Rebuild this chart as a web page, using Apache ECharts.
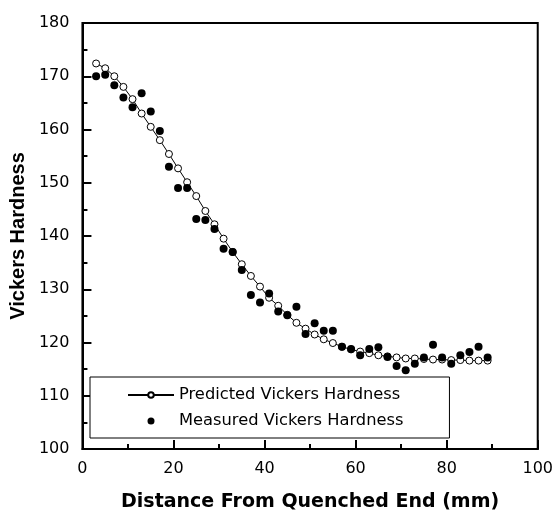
<!DOCTYPE html>
<html>
<head>
<meta charset="utf-8">
<script src="https://cdn.jsdelivr.net/npm/echarts@6/dist/echarts.min.js"></script>
<style>
  html, body { margin: 0; padding: 0; background: #fff; }
  #chart { width: 556px; height: 518px; }
</style>
</head>
<body>
<div id="chart"></div>
<script>
// Sample positions along the Jominy bar (mm from the quenched end)
const distance = [3, 5, 7, 9, 11, 13, 15, 17, 19, 21, 23, 25, 27, 29, 31, 33, 35, 37, 39, 41, 43, 45,
                  47, 49, 51, 53, 55, 57, 59, 61, 63, 65, 67, 69, 71, 73, 75, 77, 79, 81, 83, 85, 87, 89];

// Model output
const predicted = [172.4, 171.5, 170.0, 168.0, 165.7, 163.0, 160.5, 158.0, 155.4, 152.7, 150.1,
                   147.5, 144.7, 142.2, 139.5, 137.0, 134.7, 132.5, 130.5, 128.4, 126.9, 125.2,
                   123.7, 122.6, 121.5, 120.6, 119.9, 119.2, 118.7, 118.3, 118.0, 117.6, 117.4,
                   117.2, 117.0, 117.0, 116.9, 116.8, 116.8, 116.7, 116.7, 116.6, 116.6, 116.6];

// Hardness readings
const measured = [170.0, 170.3, 168.3, 166.0, 164.2, 166.8, 163.4, 159.7, 153.0, 149.0, 149.0,
                  143.2, 143.0, 141.3, 137.6, 137.0, 133.6, 128.9, 127.5, 129.2, 125.8, 125.1,
                  126.7, 121.6, 123.6, 122.2, 122.2, 119.2, 118.8, 117.6, 118.8, 119.1, 117.3,
                  115.6, 114.8, 116.0, 117.2, 119.6, 117.2, 116.0, 117.6, 118.2, 119.2, 117.2];

const seriesNames = ['Predicted Vickers Hardness', 'Measured Vickers Hardness'];
const xTitle = 'Distance From Quenched End (mm)';
const yTitle = 'Vickers Hardness';

const pair = (xs, ys) => xs.map((x, i) => [x, ys[i]]);

const labelFont = { fontFamily: 'DejaVu Sans', fontSize: 16, color: '#000' };

const chart = echarts.init(document.getElementById('chart'), null, { renderer: 'canvas' });
chart.setOption({
  animation: false,
  backgroundColor: '#fff',
  grid: {
    left: 77, right: 17, top: 23, bottom: 69,
    show: true, borderColor: '#000', borderWidth: 2, backgroundColor: 'transparent'
  },
  legend: {
    data: [
      { name: seriesNames[0] },
      { name: seriesNames[1] }
    ],
    orient: 'vertical',
    left: 90, top: 377,
    itemWidth: 46, itemHeight: 7, itemGap: 10,
    padding: [10, 46, 9, 37],
    borderColor: '#000', borderWidth: 1,
    backgroundColor: '#fff',
    textStyle: Object.assign({}, labelFont, { fontSize: 16.3 })
  },
  xAxis: {
    type: 'value', min: 0, max: 100, interval: 20,
    name: xTitle, nameLocation: 'middle', nameGap: 44,
    nameTextStyle: { fontFamily: 'DejaVu Sans', fontWeight: 'bold', fontSize: 19, color: '#000' },
    axisLine: { show: true, onZero: false, lineStyle: { color: '#000', width: 2 } },
    axisTick: { show: true, inside: true, length: 9, lineStyle: { color: '#000', width: 2 } },
    minorTick: { show: true, splitNumber: 2, length: 5, lineStyle: { color: '#000', width: 2 } },
    axisLabel: Object.assign({ margin: 12 }, labelFont),
    splitLine: { show: false },
    minorSplitLine: { show: false }
  },
  yAxis: {
    type: 'value', min: 100, max: 180, interval: 10,
    name: yTitle, nameLocation: 'middle', nameGap: 44, nameRotate: 90,
    nameTextStyle: { fontFamily: 'Liberation Sans', fontWeight: 'bold', fontSize: 20, color: '#000' },
    axisLine: { show: true, onZero: false, lineStyle: { color: '#000', width: 2 } },
    axisTick: { show: true, inside: true, length: 9, lineStyle: { color: '#000', width: 2 } },
    minorTick: { show: true, splitNumber: 2, length: 5, lineStyle: { color: '#000', width: 2 } },
    axisLabel: Object.assign({ margin: 13 }, labelFont),
    splitLine: { show: false },
    minorSplitLine: { show: false }
  },
  series: [
    {
      name: seriesNames[0],
      type: 'line',
      data: pair(distance, predicted),
      symbol: 'circle',
      symbolSize: 7,
      showSymbol: true,
      lineStyle: { color: '#000', width: 1 },
      itemStyle: { color: '#fff', borderColor: '#000', borderWidth: 1, opacity: 1 },
      z: 2
    },
    {
      name: seriesNames[1],
      type: 'scatter',
      data: pair(distance, measured),
      symbol: 'circle',
      symbolSize: 8,
      itemStyle: { color: '#000', opacity: 1 },
      z: 3
    }
  ]
});
</script>
</body>
</html>
